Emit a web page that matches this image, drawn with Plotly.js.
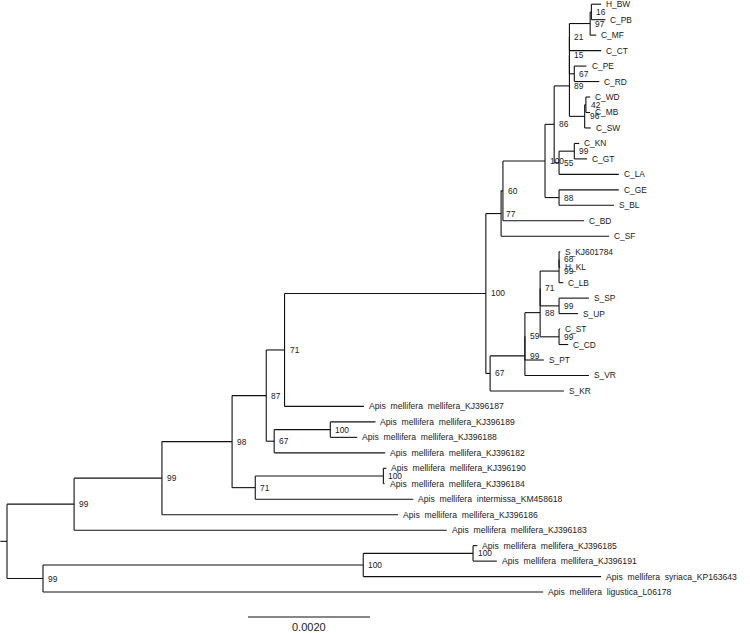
<!DOCTYPE html>
<html><head><meta charset="utf-8">
<script src="https://cdn.plot.ly/plotly-3.0.1.min.js"></script>
<style>html,body{margin:0;padding:0;background:#fff}#chart{width:750px;height:633px}</style>
</head><body><div id="chart"></div>
<script>
// Tree data: node names, parents, branch lengths (substitutions/site), bootstrap support
const nodeNames = [
 'root','n99a','n99b','n98','n87','n71a','n100','n77','n60','n100u','n86','n89','n15','n21','n97','n16',
 'H_BW','C_PB','C_MF','C_CT','n67p','C_PE','C_RD','n96','n42','C_WD','C_MB','C_SW',
 'n55','n99kg','C_KN','C_GT','C_LA','n88','C_GE','S_BL','C_BD','C_SF',
 'n67','n99pt','n59','n88s','n71s','n99k2','n68','S_KJ601784','H_KL','C_LB','n99sp','S_SP','S_UP',
 'n99st','C_ST','C_CD','S_PT','S_VR','S_KR',
 'Apis mellifera mellifera_KJ396187','n67o','n100b','Apis mellifera mellifera_KJ396189','Apis mellifera mellifera_KJ396188',
 'Apis mellifera mellifera_KJ396182','n71b','n100c','Apis mellifera mellifera_KJ396190','Apis mellifera mellifera_KJ396184',
 'Apis mellifera intermissa_KM458618','Apis mellifera mellifera_KJ396186','Apis mellifera mellifera_KJ396183',
 'n99c','n100d','n100e','Apis mellifera mellifera_KJ396185','Apis mellifera mellifera_KJ396191',
 'Apis mellifera syriaca_KP163643','Apis mellifera ligustica_L06178'
];
const nodeParents = [
 null,'root','n99a','n99b','n98','n87','n71a','n100','n77','n60','n100u','n86','n89','n15','n21','n97',
 'n16','n16','n97','n21','n15','n67p','n67p','n89','n96','n42','n42','n96',
 'n86','n55','n99kg','n99kg','n55','n100u','n88','n88','n60','n77',
 'n100','n67','n99pt','n59','n88s','n71s','n99k2','n68','n68','n99k2','n71s','n99sp','n99sp',
 'n88s','n99st','n99st','n59','n99pt','n67',
 'n71a','n87','n67o','n100b','n100b',
 'n67o','n98','n71b','n100c','n100c',
 'n71b','n99b','n99a',
 'root','n99c','n100d','n100e','n100e',
 'n100d','n99c'
];
const branchLengths = [
 0,0.00110,0.00144,0.00115,0.00056,0.00030,0.00330,0.00025,0.00003,0.00069,0.00015,0.00025,0,0,0.00034,0.00002,
 0.00016,0.00023,0.00010,0.00052,0.00008,0.00020,0.00041,0.00025,0.00002,0.00007,0.00007,0.00010,
 0.00008,0.00025,0.00008,0.00021,0.00098,0.00023,0.00098,0.00090,0.00133,0.00177,
 0.00007,0.00057,0,0.00025,0,0.00031,0,0.00002,0.00002,0.00007,0.00031,0.00049,0.00031,
 0.00031,0.00002,0.00015,0.00031,0.00105,0.00121,
 0.00130,0.00013,0.00092,0.00074,0.00044,
 0.00182,0.00038,0.00210,0.00005,0.00002,
 0.00259,0.00387,0.00611,
 0.00059,0.00525,0.00180,0.00007,0.00039,
 0.00390,0.00820
];
const bootstrap = [
 '','99','99','98','87','71','100','77','60','100','86','89','15','21','97','16',
 '','','','','67','','','96','42','','','',
 '55','99','','','','88','','','','',
 '67','99','59','88','71','99','68','','','','99','','',
 '99','','','','','',
 '','67','100','','',
 '','71','100','','',
 '','','',
 '99','100','100','','',
 '',''
];
const rootStubLength = 0.00011;
const scaleBarLength = 0.002;
const scaleBarLabel = '0.0020';

// ---- geometry (layout) ----
const W = 750, H = 633;
const pxPerUnit = 122 / 0.002;
const rootPx = 7;
const leafTopPx = 4.2, leafStepPx = 15.47;
const scaleBarPx = 248, scaleBarYPx = 617, scaleTextYPx = 627;
const font = "'Liberation Sans', Arial, sans-serif";

const idx = {}; nodeNames.forEach((n, i) => idx[n] = i);
const children = nodeNames.map(() => []);
nodeParents.forEach((p, i) => { if (p !== null) children[idx[p]].push(i); });
const depth = new Array(nodeNames.length).fill(0);
nodeNames.forEach((n, i) => { if (nodeParents[i] !== null) depth[i] = depth[idx[nodeParents[i]]] + branchLengths[i]; });
const yPos = new Array(nodeNames.length).fill(0);
let leafCount = 0;
function place(i) {
  if (children[i].length === 0) { yPos[i] = leafCount++; return; }
  children[i].forEach(place);
  const c = children[i];
  yPos[i] = (yPos[c[0]] + yPos[c[c.length - 1]]) / 2;
}
place(0);

const lx = [], ly = [];
nodeNames.forEach((n, i) => {
  if (nodeParents[i] !== null) {
    lx.push(depth[idx[nodeParents[i]]], depth[i], null); ly.push(yPos[i], yPos[i], null);
  } else {
    lx.push(-rootStubLength, 0, null); ly.push(yPos[i], yPos[i], null);
  }
  if (children[i].length) {
    const c = children[i];
    lx.push(depth[i], depth[i], null); ly.push(yPos[c[0]], yPos[c[c.length - 1]], null);
  }
});

const toIdx = px => (px - leafTopPx) / leafStepPx;
const sbX0 = (scaleBarPx - rootPx) / pxPerUnit;

const traces = [
  {x: lx, y: ly, mode: 'lines', line: {color: '#111', width: 1.1}, hoverinfo: 'skip', showlegend: false},
  {x: [sbX0, sbX0 + scaleBarLength], y: [toIdx(scaleBarYPx), toIdx(scaleBarYPx)], mode: 'lines',
   line: {color: '#111', width: 1.1}, hoverinfo: 'skip', showlegend: false}
];

const annotations = [];
nodeNames.forEach((n, i) => {
  if (children[i].length === 0) {
    const apis = n.startsWith('Apis');
    annotations.push({x: depth[i], y: yPos[i], text: apis ? n.replace(/ /g, '  ') : n, showarrow: false,
      xanchor: 'left', yanchor: 'middle', xshift: 3, font: {family: font, size: apis ? 8.6 : 8.4, color: '#222'}});
  } else if (bootstrap[i]) {
    annotations.push({x: depth[i], y: yPos[i], text: bootstrap[i], showarrow: false,
      xanchor: 'left', yanchor: 'middle', xshift: 3, font: {family: font, size: 8.4, color: '#222'}});
  }
});
annotations.push({x: sbX0 + scaleBarLength / 2, y: toIdx(scaleTextYPx), text: scaleBarLabel, showarrow: false,
  xanchor: 'center', yanchor: 'middle', font: {family: font, size: 11, color: '#222'}});

const layout = {
  width: W, height: H, margin: {l: 0, r: 0, t: 0, b: 0},
  paper_bgcolor: '#fff', plot_bgcolor: '#fff', showlegend: false,
  xaxis: {range: [-rootPx / pxPerUnit, (W - rootPx) / pxPerUnit], visible: false, fixedrange: true},
  yaxis: {range: [toIdx(H), toIdx(0)], visible: false, fixedrange: true},
  annotations: annotations
};
Plotly.newPlot('chart', traces, layout, {displayModeBar: false, staticPlot: true});
</script>
</body></html>
